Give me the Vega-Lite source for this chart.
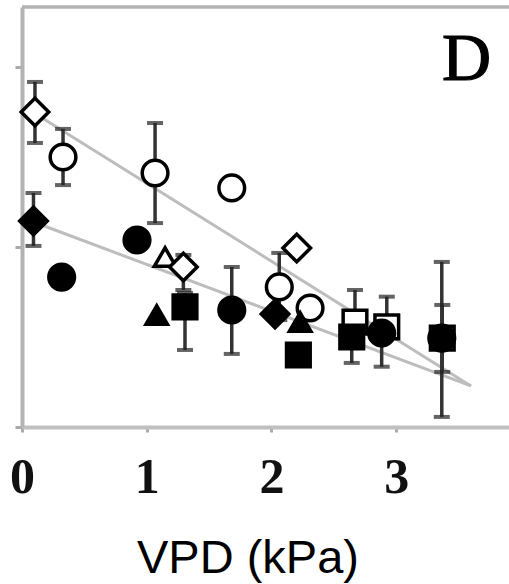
{
  "$schema": "https://vega.github.io/schema/vega-lite/v6.json",
  "width": 487,
  "height": 420,
  "autosize": {"type": "none"},
  "padding": {"left": 22, "top": 7, "right": 0, "bottom": 157},
  "background": "white",
  "config": {"view": {"stroke": null}, "axis": {"grid": false}},
  "datasets": {
    "points": [
      {"vpd": 0.104, "val": 1.75, "lo": 1.578, "hi": 1.917, "symbol": "diamond", "kind": "open"},
      {"vpd": 0.329, "val": 1.5, "lo": 1.344, "hi": 1.656, "symbol": "circle", "kind": "open"},
      {"vpd": 1.067, "val": 1.411, "lo": 1.133, "hi": 1.689, "symbol": "circle", "kind": "open"},
      {"vpd": 0.092, "val": 1.144, "lo": 1.006, "hi": 1.3, "symbol": "diamond", "kind": "filled"},
      {"vpd": 0.318, "val": 0.833, "lo": null, "hi": null, "symbol": "circle", "kind": "filled"},
      {"vpd": 0.922, "val": 1.039, "lo": null, "hi": null, "symbol": "circle", "kind": "filled"},
      {"vpd": 1.147, "val": 0.944, "lo": null, "hi": null, "symbol": "triangle", "kind": "open"},
      {"vpd": 1.294, "val": 0.889, "lo": 0.761, "hi": 0.956, "symbol": "diamond", "kind": "open"},
      {"vpd": 1.08, "val": 0.622, "lo": null, "hi": null, "symbol": "triangle", "kind": "filled"},
      {"vpd": 1.307, "val": 0.667, "lo": 0.428, "hi": 0.744, "symbol": "square", "kind": "filled"},
      {"vpd": 1.682, "val": 1.328, "lo": null, "hi": null, "symbol": "circle", "kind": "open"},
      {"vpd": 1.682, "val": 0.65, "lo": 0.406, "hi": 0.889, "symbol": "circle", "kind": "filled"},
      {"vpd": 2.203, "val": 0.994, "lo": null, "hi": null, "symbol": "diamond", "kind": "open"},
      {"vpd": 2.063, "val": 0.778, "lo": 0.594, "hi": 0.967, "symbol": "circle", "kind": "open"},
      {"vpd": 2.029, "val": 0.628, "lo": null, "hi": null, "symbol": "diamond", "kind": "filled"},
      {"vpd": 2.31, "val": 0.661, "lo": null, "hi": null, "symbol": "circle", "kind": "open"},
      {"vpd": 2.23, "val": 0.583, "lo": null, "hi": null, "symbol": "triangle", "kind": "filled"},
      {"vpd": 2.216, "val": 0.4, "lo": null, "hi": null, "symbol": "square", "kind": "filled"},
      {"vpd": 2.67, "val": 0.583, "lo": 0.583, "hi": 0.761, "symbol": "square", "kind": "open"},
      {"vpd": 2.644, "val": 0.5, "lo": 0.356, "hi": 0.5, "symbol": "square", "kind": "filled"},
      {"vpd": 2.925, "val": 0.556, "lo": 0.556, "hi": 0.724, "symbol": "square", "kind": "open"},
      {"vpd": 2.884, "val": 0.522, "lo": 0.335, "hi": 0.522, "symbol": "circle", "kind": "filled"},
      {"vpd": 3.37, "val": 0.494, "lo": 0.306, "hi": 0.678, "symbol": "square", "kind": "open"},
      {"vpd": 3.366, "val": 0.494, "lo": 0.056, "hi": 0.917, "symbol": "circle", "kind": "filled"}
    ],
    "lines": [
      {"vpd": 0.104, "val": 1.742, "line": "open"},
      {"vpd": 3.6, "val": 0.228, "line": "open"},
      {"vpd": 0.104, "val": 1.136, "line": "filled"},
      {"vpd": 3.6, "val": 0.228, "line": "filled"}
    ],
    "annot": [{"label": "D"}]
  },
  "layer": [
    {
      "data": {"name": "lines"},
      "mark": {"type": "line", "color": "#bdbdbd", "strokeWidth": 3},
      "encoding": {
        "x": {
          "field": "vpd", "type": "quantitative",
          "scale": {"domain": [0, 3.905], "nice": false, "zero": false},
          "axis": {
            "values": [0, 1, 2, 3], "format": "d",
            "labelFont": "Liberation Serif", "labelFontSize": 50, "labelFontWeight": "bold", "labelColor": "#111",
            "labelFlush": false, "labelBaseline": "alphabetic", "labelPadding": 60, "labelDx": 2,
            "tickSize": 5, "tickColor": "#aaaaaa", "tickWidth": 3,
            "domainColor": "#c0c0c0", "domainWidth": 4,
            "title": "VPD (kPa)", "titleFont": "Liberation Sans", "titleFontSize": 47,
            "titleFontWeight": "normal", "titleColor": "#000",
            "titleX": 225.5, "titleY": 145, "titleBaseline": "alphabetic", "titleAlign": "center"
          }
        },
        "y": {
          "field": "val", "type": "quantitative",
          "scale": {"domain": [0, 2.3333], "nice": false, "zero": false},
          "axis": {
            "values": [0, 1, 2], "labels": false, "title": null,
            "tickSize": 7, "tickColor": "#aaaaaa", "tickWidth": 3,
            "domainColor": "#b3b3b3", "domainWidth": 4
          }
        },
        "detail": {"field": "line"}
      }
    },
    {
      "data": {"name": "annot"},
      "mark": {"type": "rule", "color": "#b3b3b3", "strokeWidth": 3.5},
      "encoding": {"y": {"datum": 2.3333, "type": "quantitative"}}
    },
    {
      "data": {"name": "points"},
      "transform": [{"filter": "isValid(datum.lo)"}],
      "mark": {"type": "rule", "color": "#333333", "strokeWidth": 3.5},
      "encoding": {
        "x": {"field": "vpd", "type": "quantitative"},
        "y": {"field": "lo", "type": "quantitative"},
        "y2": {"field": "hi"}
      }
    },
    {
      "data": {"name": "points"},
      "transform": [{"filter": "isValid(datum.hi)"}],
      "mark": {"type": "tick", "orient": "horizontal", "color": "#222222", "size": 16, "thickness": 4},
      "encoding": {
        "x": {"field": "vpd", "type": "quantitative"},
        "y": {"field": "hi", "type": "quantitative"}
      }
    },
    {
      "data": {"name": "points"},
      "transform": [{"filter": "isValid(datum.lo)"}],
      "mark": {"type": "tick", "orient": "horizontal", "color": "#222222", "size": 16, "thickness": 4},
      "encoding": {
        "x": {"field": "vpd", "type": "quantitative"},
        "y": {"field": "lo", "type": "quantitative"}
      }
    },
    {
      "data": {"name": "points"},
      "mark": {"type": "point", "filled": false, "stroke": "#000", "strokeWidth": 3.5, "opacity": 1},
      "encoding": {
        "x": {"field": "vpd", "type": "quantitative"},
        "y": {"field": "val", "type": "quantitative"},
        "shape": {
          "field": "symbol", "type": "nominal", "legend": null,
          "scale": {"domain": ["diamond", "circle", "square", "triangle"], "range": ["diamond", "circle", "square", "triangle-up"]}
        },
        "size": {
          "field": "symbol", "type": "nominal", "legend": null,
          "scale": {"domain": ["diamond", "circle", "square", "triangle"], "range": [760, 460, 540, 780]}
        },
        "fill": {
          "field": "kind", "type": "nominal", "legend": null,
          "scale": {"domain": ["open", "filled"], "range": ["#ffffff", "#000000"]}
        }
      }
    },
    {
      "data": {"name": "annot"},
      "mark": {"type": "text", "font": "Liberation Serif", "fontSize": 68, "align": "center", "baseline": "alphabetic", "color": "#000", "stroke": "#000", "strokeWidth": 1.2},
      "encoding": {
        "x": {"datum": 3.565, "type": "quantitative"},
        "y": {"datum": 1.928, "type": "quantitative"},
        "text": {"field": "label"}
      }
    }
  ]
}
